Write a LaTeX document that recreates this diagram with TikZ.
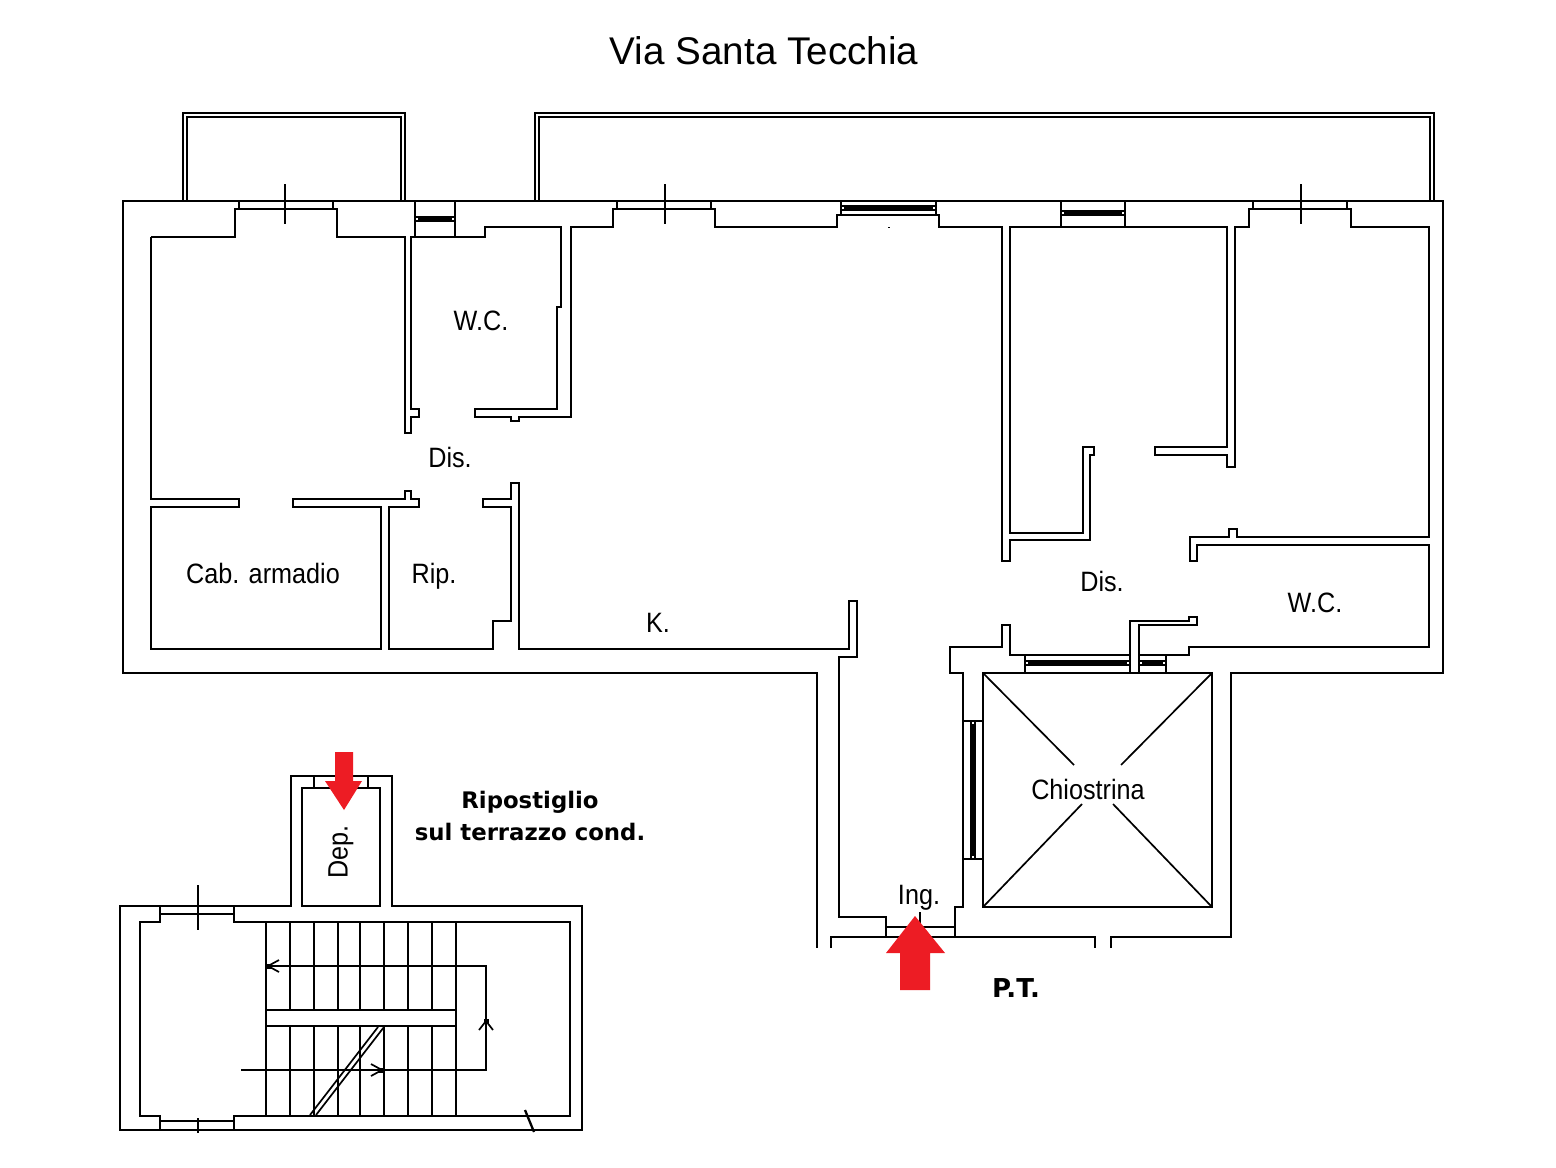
\documentclass[tikz,border=0pt]{standalone}
\usepackage{fontspec}
\setmainfont{Liberation Sans}
\newfontfamily\planfont[FakeStretch=0.9]{Liberation Sans}
\newfontfamily\noteface[BoldFont={DejaVu Sans Bold}]{DejaVu Sans}
\newcommand{\glassH}[3]{%
  \fill[black] (#1,#3-3) rectangle (#2,#3+3);
  \fill[white] (#1+1,#3-1) rectangle (#1+3,#3+1);
  \fill[white] (#2-3,#3-1) rectangle (#2-1,#3+1);}
\newcommand{\glassV}[3]{%
  \fill[black] (#3-3,#1) rectangle (#3+3,#2);
  \fill[white] (#3-1,#1+1) rectangle (#3+1,#1+3);
  \fill[white] (#3-1,#2-3) rectangle (#3+1,#2-1);}
\newcommand{\stairdot}[2]{\fill[black] (#1-2.5,#2-2.5) rectangle (#1+2.5,#2+2.5);}
\tikzset{
  wall/.style={draw=black,line width=1.15pt,line join=miter,line cap=square},
  thin wall/.style={draw=black,line width=0.85pt},
  label/.style={font=\planfont\fontsize{14}{16}\selectfont,inner sep=0pt,text=black,anchor=base},
  bold label/.style={font=\noteface\bfseries\fontsize{11.4}{14}\selectfont,inner sep=0pt,text=black,anchor=base},
  red arrow/.style={fill={rgb,255:red,237;green,28;blue,36},draw=none}
}
\begin{document}
\begin{tikzpicture}[x=0.5pt,y=-0.5pt]
\useasboundingbox (0,0) rectangle (1556,1167);
\fill[white] (0,0) rectangle (1556,1167);

% --- outer shell
\draw[wall] (1111,948)--(1111,937)--(1231,937)--(1231,673)--(1443,673)--(1443,201)--(123,201)--(123,673)--(817,673)--(817,948);
\draw[wall] (831,948)--(831,937)--(1095,937)--(1095,948);

% --- balconies
\draw[wall] (183,201)--(183,113)--(405,113)--(405,201);
\draw[wall] (187,201)--(187,117)--(401,117)--(401,201);
\draw[wall] (535,201)--(535,113)--(1434,113)--(1434,201);
\draw[wall] (539,201)--(539,117)--(1430,117)--(1430,201);

% --- inner walls, upper run
\draw[wall] (151,237)--(235,237)--(235,209)--(337,209)--(337,237)--(405,237)--(405,433)--(411,433)--(411,417)--(419,417)--(419,409)--(411,409)--(411,237)--(485,237)--(485,227)--(561,227)--(561,307)--(557,307)--(557,409)--(475,409)--(475,417)--(511,417)--(511,421)--(519,421)--(519,417)--(571,417)--(571,227)--(613,227)--(613,209)--(715,209)--(715,227)--(837,227)--(837,215)--(939,215)--(939,227)--(1002,227)--(1002,561)--(1010,561)--(1010,540)--(1090,540)--(1090,455)--(1094,455)--(1094,447)--(1083,447)--(1083,533)--(1010,533)--(1010,227)--(1227,227)--(1227,447)--(1155,447)--(1155,455)--(1227,455)--(1227,467)--(1235,467)--(1235,227)--(1249,227)--(1249,209)--(1351,209)--(1351,227)--(1429,227)--(1429,537)--(1237,537)--(1237,529)--(1229,529)--(1229,537)--(1190,537)--(1190,561)--(1197,561)--(1197,545)--(1429,545)--(1429,647)--(1189,647)--(1189,655)--(1139,655)--(1139,625)--(1197,625)--(1197,617)--(1189,617)--(1189,621)--(1130,621)--(1130,655)--(1010,655)--(1010,625)--(1002,625)--(1002,647)--(950,647)--(950,673)--(963,673)--(963,907)--(955,907)--(955,937);

% --- inner walls, lower run
\draw[wall] (151,237)--(151,499)--(239,499)--(239,507)--(151,507)--(151,649)--(381,649)--(381,507)--(293,507)--(293,499)--(405,499)--(405,491)--(411,491)--(411,499)--(419,499)--(419,507)--(389,507)--(389,649)--(493,649)--(493,621)--(511,621)--(511,507)--(483,507)--(483,499)--(511,499)--(511,483)--(519,483)--(519,649)--(849,649)--(849,601)--(857,601)--(857,657)--(839,657)--(839,917)--(886,917)--(886,937);

% --- entrance door
\draw[wall] (886,927)--(955,927);
\draw[wall] (920,912)--(920,927);

% --- top windows with cross mullions
\draw[wall] (239,201)--(239,209) (333,201)--(333,209);
\draw[wall] (285,184)--(285,224);
\draw[wall] (617,201)--(617,209) (711,201)--(711,209);
\draw[wall] (665,184)--(665,224);
\draw[wall] (1253,201)--(1253,209) (1347,201)--(1347,209);
\draw[wall] (1301,184)--(1301,224);

% --- glazed openings
\draw[wall] (415,201)--(415,237) (455,201)--(455,237);
\glassH{415}{455}{219}
\draw[wall] (841,201)--(841,215) (936,201)--(936,215);
\glassH{841}{936}{208}
\draw[wall] (889,227)--(889,228);
\draw[wall] (1061,201)--(1061,227) (1125,201)--(1125,227);
\glassH{1061}{1125}{213}
\draw[wall] (1025,655)--(1025,673) (1166,655)--(1166,673);
\draw[wall] (1130,655)--(1130,673) (1139,655)--(1139,673);
\glassH{1025}{1130}{663}
\glassH{1139}{1166}{663}

% --- chiostrina
\draw[wall] (983,673) rectangle (1212,907);
\draw[thin wall] (983,673)--(1074,765) (1212,673)--(1121,765) (983,907)--(1082,804) (1212,907)--(1113,804);
\draw[wall] (963,721)--(983,721) (963,859)--(983,859);
\glassV{721}{859}{973}

% --- stair block
\draw[wall] (120,906)--(291,906)--(291,776)--(392,776)--(392,906)--(582,906)--(582,1130)--(120,1130)--cycle;
\draw[wall] (302,906)--(302,788)--(380,788)--(380,906)--cycle;
\draw[wall] (314,776)--(314,788) (368,776)--(368,788);
\draw[wall] (160,906)--(160,922)--(140,922)--(140,1116)--(160,1116)--(160,1130);
\draw[wall] (234,906)--(234,922)--(570,922)--(570,1116)--(234,1116)--(234,1130);
\draw[wall] (160,914)--(234,914) (160,1121)--(234,1121);
\draw[wall] (198,885)--(198,930) (198,1118)--(198,1133);
\foreach \sx in {266,290,314,338,360,384,408,432,456}{
  \draw[wall] (\sx,922)--(\sx,1010) (\sx,1026)--(\sx,1116);
}
\draw[wall] (266,1010) rectangle (456,1026);
\draw[wall] (241,1070)--(486,1070)--(486,966)--(266,966);
\draw[thin wall] (279,960)--(268,966)--(279,972);
\draw[thin wall] (371,1064)--(382,1070)--(371,1076);
\draw[thin wall] (479,1030)--(486,1021)--(493,1030);
\stairdot{269}{966}
\stairdot{381}{1070}
\stairdot{486}{1021}
\draw[thin wall] (310,1115)--(378,1027) (316,1115)--(384,1027);
\draw[wall] (525,1110)--(534,1132);

% --- texts
\node[font=\fontsize{19.3}{22}\selectfont,inner sep=0pt,anchor=base] (title) at (764,64) {Via Santa Tecchia};
\node[label] (wcA) at (481,330) {W.C.};
\node[label] (disA) at (450,467) {Dis.};
\node[label] (cab) at (263,583) {Cab. armadio};
\node[label] (rip) at (434,583) {Rip.};
\node[label] (kit) at (658,632) {K.};
\node[label] (disB) at (1102,591) {Dis.};
\node[label] (wcB) at (1315,612) {W.C.};
\node[label] (chio) at (1088,799) {Chiostrina};
\node[label] (ing) at (919,904) {Ing.};
\node[label,rotate=90,anchor=center] (dep) at (341,852) {Dep.};
\node[bold label] (ripA) at (530,808) {Ripostiglio};
\node[bold label] (ripB) at (530,840) {sul terrazzo cond.};
\node[bold label,font=\noteface\bfseries\fontsize{13}{15}\selectfont] (pt) at (1016,997) {P.T.};

% --- red arrows
\path[red arrow] (915,916)--(945,953)--(930,953)--(930,990)--(900,990)--(900,953)--(886,953)--cycle;
\path[red arrow] (335,752)--(353,752)--(353,781)--(362,781)--(344,810)--(325,781)--(335,781)--cycle;
\end{tikzpicture}
\end{document}
